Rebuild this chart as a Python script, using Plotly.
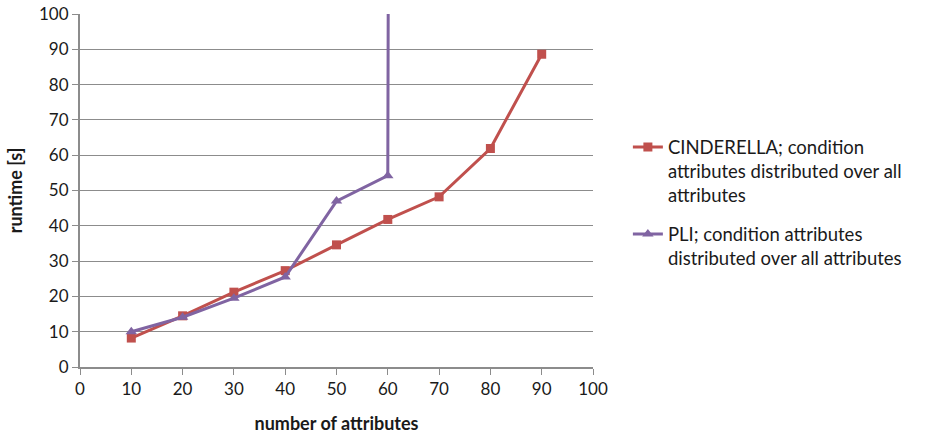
import plotly.graph_objects as go

# Runtime measurements (seconds) versus number of attributes
cind_attrs = [10, 20, 30, 40, 50, 60, 70, 80, 90]
cind_runtime = [8.2, 14.5, 21.2, 27.3, 34.6, 41.8, 48.2, 61.9, 88.6]

pli_attrs = [10, 20, 30, 40, 50, 60, 70]
pli_runtime = [10.0, 14.1, 19.5, 25.5, 47.0, 54.2, 6000.0]

x_ticks = [0, 10, 20, 30, 40, 50, 60, 70, 80, 90, 100]
y_ticks = [0, 10, 20, 30, 40, 50, 60, 70, 80, 90, 100]

FONT = "Lato, 'Open Sans', sans-serif"
GRID = "#8c8c8c"

fig = go.Figure()
fig.add_trace(go.Scatter(
    x=cind_attrs, y=cind_runtime, mode="lines+markers",
    name="CINDERELLA; condition<br>attributes distributed over all<br>attributes",
    legendgroup="cinderella",
    line=dict(color="#C0504D", width=3),
    marker=dict(symbol="square", size=9, color="#C0504D"),
))
fig.add_trace(go.Scatter(
    x=pli_attrs, y=pli_runtime, mode="lines+markers",
    name="PLI; condition attributes<br>distributed over all attributes",
    legendgroup="pli",
    line=dict(color="#8064A2", width=3),
    marker=dict(symbol="triangle-up", size=10, color="#8064A2"),
))

fig.update_layout(
    width=932, height=434,
    margin=dict(l=80, r=339, t=14, b=67),
    paper_bgcolor="white", plot_bgcolor="white",
    font=dict(family=FONT, size=17, color="#1a1a1a"),
    legend=dict(
        x=1.068, y=0.465, xanchor="left", yanchor="middle", valign="top",
        font=dict(family=FONT, size=18.5, color="#1a1a1a"),
        tracegroupgap=12, itemwidth=30,
    ),
    xaxis=dict(
        range=[0, 100], tickvals=x_ticks, ticktext=[str(v) for v in x_ticks],
        showgrid=False, showline=True, linecolor=GRID, linewidth=2,
        ticks="outside", ticklen=6, tickcolor=GRID, zeroline=False,
        automargin=False,
        title=dict(text="<b>number of attributes</b>", standoff=20,
                   font=dict(family=FONT, size=18)),
    ),
    yaxis=dict(
        range=[0, 100], tickvals=y_ticks, ticktext=[str(v) for v in y_ticks],
        showgrid=True, gridcolor=GRID, gridwidth=1,
        showline=True, linecolor=GRID, linewidth=2,
        ticks="outside", ticklen=6, tickcolor=GRID, zeroline=False,
        automargin=False,
        title=dict(text="<b>runtime [s]</b>", standoff=12,
                   font=dict(family=FONT, size=18)),
    ),
)

fig.write_html("out.html")
